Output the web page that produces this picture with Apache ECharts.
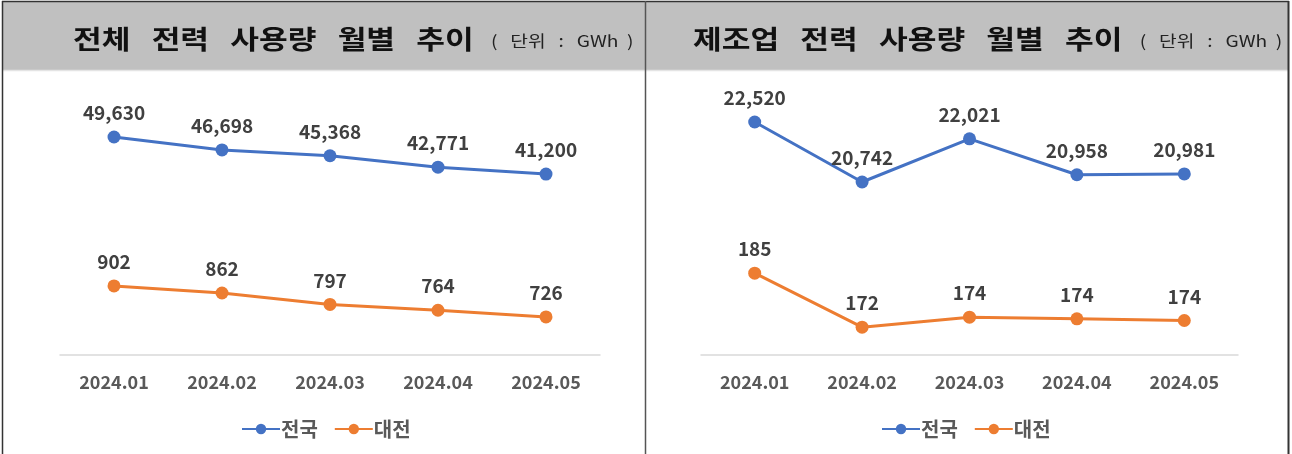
<!DOCTYPE html>
<html>
<head>
<meta charset="utf-8">
<script src="https://cdn.jsdelivr.net/npm/echarts@6/dist/echarts.min.js"></script>
<style>
  html, body { margin: 0; padding: 0; background: #fff; }
  #chart { width: 1292px; height: 454px; }
</style>
</head>
<body>
<div id="chart"></div>
<script>
var months = ['2024.01', '2024.02', '2024.03', '2024.04', '2024.05'];
var seriesNames = ['전국', '대전'];
// 전체 전력 사용량 (GWh)
var totalNation = [49630, 46698, 45368, 42771, 41200];
var totalDaejeon = [902, 862, 797, 764, 726];
// 제조업 전력 사용량 (GWh)
var mfgNation = [22520, 20742, 22021, 20958, 20981];
var mfgDaejeon = [185, 172, 174.4, 174.0, 173.6];

var BLUE = '#4472C4', ORANGE = '#ED7D31';
var font = '"Noto Sans CJK KR", "Noto Sans", sans-serif';

function fmt(p) {
    return Math.round(p.value).toLocaleString('en-US');
}

function lineSeries(name, data, idx, color) {
    return {
        name: name,
        type: 'line',
        xAxisIndex: idx[0],
        yAxisIndex: idx[1],
        data: data,
        symbol: 'circle',
        symbolSize: 13,
        itemStyle: { color: color },
        lineStyle: { color: color, width: 3 },
        label: {
            show: true,
            position: 'top',
            distance: 8,
            formatter: fmt,
            fontFamily: font,
            fontWeight: 'bold',
            fontSize: 19,
            color: '#404040'
        },
        animation: false
    };
}

function xAxis(gi) {
    return {
        type: 'category',
        gridIndex: gi,
        data: months,
        boundaryGap: true,
        axisLine: { lineStyle: { color: '#d9d9d9', width: 1.5 } },
        axisTick: { show: false },
        axisLabel: {
            margin: 18,
            fontFamily: font,
            fontWeight: 'bold',
            fontSize: 18,
            color: '#595959'
        }
    };
}

function yAxis(gi, min, max) {
    return { type: 'value', gridIndex: gi, min: min, max: max, show: false };
}

// 제목: 가로로 넓은 글꼴 느낌을 위해 scaleX 사용
function titleText(left, words) {
    return {
        type: 'text',
        x: left,
        y: 39,
        scaleX: 1.2,
        style: {
            x: 0,
            y: 0,
            verticalAlign: 'middle',
            text: '{a|' + words.join('   ') + '}{b|    (   단위   :   GWh  )}',
            rich: {
                a: { fontFamily: font, fontWeight: 'bold', fontSize: 26, fill: '#111', lineHeight: 40 },
                b: { fontFamily: font, fontWeight: 'normal', fontSize: 16, fill: '#222', lineHeight: 40, padding: [3, 0, 0, 0] }
            }
        }
    };
}

function legend(left) {
    return {
        left: left,
        top: 414,
        data: seriesNames,
        itemWidth: 38,
        itemHeight: 13,
        itemGap: 16,
        textStyle: { fontFamily: font, fontWeight: 'bold', fontSize: 20, color: '#595959', padding: [0, 0, 0, -4] }
    };
}

var chart = echarts.init(document.getElementById('chart'));
chart.setOption({
    backgroundColor: '#fff',
    animation: false,
    graphic: [
        { type: 'rect', shape: { x: 3, y: 2, width: 642, height: 68 }, style: { fill: '#c0c0c0' } },
        { type: 'rect', shape: { x: 646, y: 2, width: 642, height: 68 }, style: { fill: '#c0c0c0' } },
        { type: 'line', shape: { x1: 3, y1: 70.5, x2: 1288, y2: 70.5 }, style: { stroke: '#e4e4e4', lineWidth: 1.5 } },
        { type: 'line', shape: { x1: 2, y1: 1.5, x2: 1289, y2: 1.5 }, style: { stroke: '#333', lineWidth: 1.5 } },
        { type: 'line', shape: { x1: 2.5, y1: 1, x2: 2.5, y2: 454 }, style: { stroke: '#333', lineWidth: 1.5 } },
        { type: 'line', shape: { x1: 645.5, y1: 1, x2: 645.5, y2: 454 }, style: { stroke: '#555', lineWidth: 1.5 } },
        { type: 'line', shape: { x1: 1288.5, y1: 1, x2: 1288.5, y2: 454 }, style: { stroke: '#333', lineWidth: 2 } },
        titleText(73, ['전체', '전력', '사용량', '월별', '추이']),
        titleText(693, ['제조업', '전력', '사용량', '월별', '추이'])
    ],
    legend: [legend(236), legend(876)],
    grid: [
        { left: 60, width: 540, top: 75, height: 280 },
        { left: 701, width: 537, top: 75, height: 280 }
    ],
    xAxis: [xAxis(0), xAxis(1)],
    yAxis: [
        yAxis(0, 0, 63750),
        yAxis(0, 510, 2100),
        yAxis(1, 15616, 23913),
        yAxis(1, 165.3, 232.7)
    ],
    series: [
        lineSeries(seriesNames[0], totalNation, [0, 0], BLUE),
        lineSeries(seriesNames[1], totalDaejeon, [0, 1], ORANGE),
        lineSeries(seriesNames[0], mfgNation, [1, 2], BLUE),
        lineSeries(seriesNames[1], mfgDaejeon, [1, 3], ORANGE)
    ]
});
</script>
</body>
</html>
